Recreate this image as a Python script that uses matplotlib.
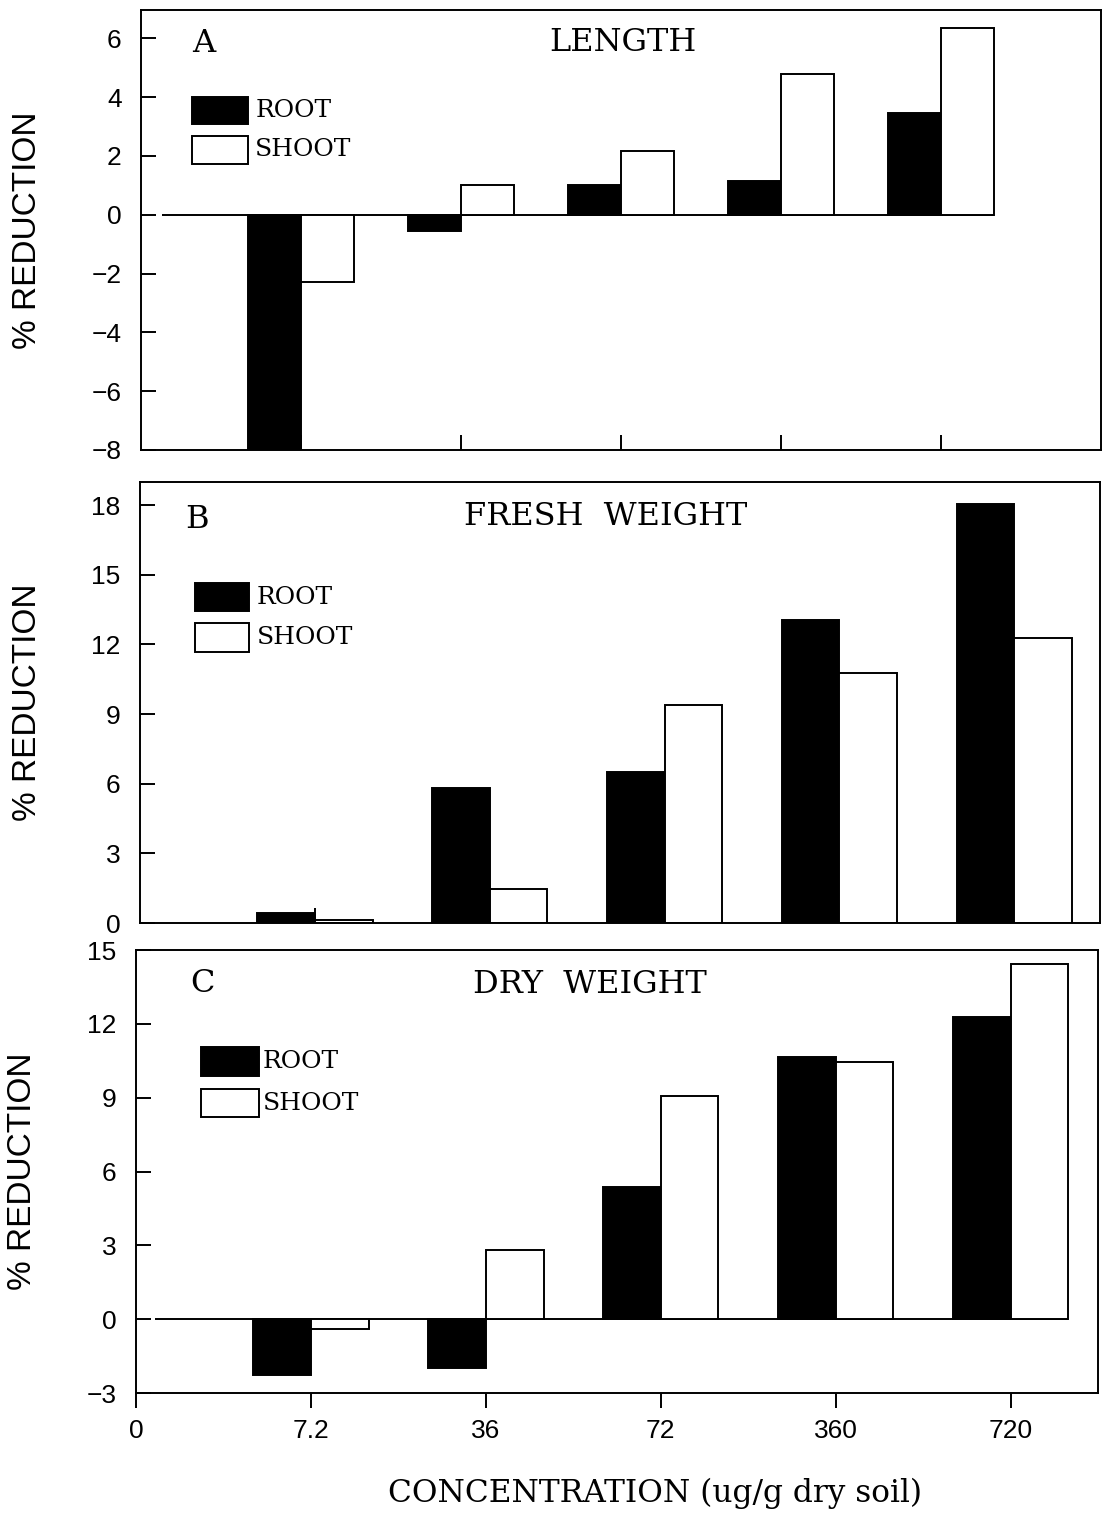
import numpy as np
import matplotlib.pyplot as plt
from matplotlib.patches import Rectangle

# data (% reduction)
conc_labels = ["0", "7.2", "36", "72", "360", "720"]
groups = np.arange(1, 6)

length_root = [-8.0, -0.55, 1.0, 1.15, 3.45]
length_shoot = [-2.3, 1.0, 2.15, 4.8, 6.35]
fresh_root = [0.42, 5.8, 6.5, 13.05, 18.05]
fresh_shoot = [0.12, 1.47, 9.4, 10.75, 12.27]
dry_root = [-2.27, -2.0, 5.38, 10.65, 12.28]
dry_shoot = [-0.4, 2.82, 9.07, 10.45, 14.43]

SANS = "Liberation Sans"
SERIF = "DejaVu Serif"
BW = 0.33
LW = 1.4

fig = plt.figure(figsize=(11.03, 15.16), dpi=100)
axA = fig.add_axes([0.12783, 0.70317, 0.87035, 0.29024])
axB = fig.add_axes([0.12693, 0.39116, 0.87035, 0.29090])
axC = fig.add_axes([0.12330, 0.08113, 0.87217, 0.29222])


def draw_panel(ax, root, shoot, xlim, ylim, yticks, letter, title,
               letter_xy, title_xy, leg_x, leg_w, leg_rows, text_x, zero_from, ylab_x):
    ax.bar(groups - BW / 2, root, BW, color="black", edgecolor="black", linewidth=LW, zorder=2)
    ax.bar(groups + BW / 2, shoot, BW, facecolor="white", edgecolor="black", linewidth=LW, zorder=2)
    if zero_from is not None:
        ax.hlines(0, zero_from, groups[-1] + BW, color="black", linewidth=LW, zorder=1)
    ax.set_xlim(*xlim)
    ax.set_ylim(*ylim)
    ax.set_yticks(yticks)
    ax.set_xticks(groups)
    ax.set_xticklabels([])
    for s in ax.spines.values():
        s.set_linewidth(LW)
    ax.tick_params(axis="y", direction="in", length=11, width=LW, pad=14, labelsize=19)
    ax.tick_params(axis="x", direction="in", length=11, width=LW)
    for lab in ax.get_yticklabels():
        lab.set_fontfamily(SANS)
    ax.text(ylab_x, 0.5, "% REDUCTION", transform=ax.transAxes, rotation=90,
            fontsize=24, family=SANS, ha="center", va="center")
    ax.text(letter_xy[0], letter_xy[1], letter, transform=ax.transAxes,
            fontsize=23, family=SERIF, ha="left", va="center")
    ax.text(title_xy[0], title_xy[1], title, transform=ax.transAxes,
            fontsize=23, family=SERIF, ha="center", va="center")
    # legend boxes
    for (y0, y1), fc, name in zip(leg_rows, ["black", "white"], ["ROOT", "SHOOT"]):
        ax.add_patch(Rectangle((leg_x, y0), leg_w, y1 - y0, transform=ax.transAxes,
                               facecolor=fc, edgecolor="black", linewidth=LW, zorder=3))
        ax.text(text_x, (y0 + y1) / 2, name, transform=ax.transAxes,
                fontsize=18, family=SERIF, ha="left", va="center")


draw_panel(axA, length_root, length_shoot, (0, 6), (-8, 6.96), np.arange(-8, 7, 2),
           "A", "LENGTH", (0.053, 0.923), (0.502, 0.927),
           0.053, 0.058, [(0.741, 0.802), (0.650, 0.714)], 0.119, 0.13, -0.118)

draw_panel(axB, fresh_root, fresh_shoot, (0, 5.49), (0, 19.0), np.arange(0, 19, 3),
           "B", "FRESH  WEIGHT", (0.047, 0.914), (0.485, 0.921),
           0.057, 0.057, [(0.707, 0.771), (0.615, 0.680)], 0.122, None, -0.117)

draw_panel(axC, dry_root, dry_shoot, (0, 5.5), (-3, 14.9), np.arange(-3, 16, 3),
           "C", "DRY  WEIGHT", (0.056, 0.925), (0.472, 0.921),
           0.068, 0.060, [(0.716, 0.781), (0.623, 0.686)], 0.132, 0.11, -0.118)

axC.set_xticks(np.arange(len(conc_labels)))
axC.set_xticklabels(conc_labels, family=SANS, fontsize=19)
axC.tick_params(axis="x", direction="out", length=11, width=LW, pad=8)

fig.text(0.594, 0.0152, "CONCENTRATION (ug/g dry soil)", fontsize=22.5, family=SERIF,
         ha="center", va="center")

fig.savefig("out.png", dpi=100)
